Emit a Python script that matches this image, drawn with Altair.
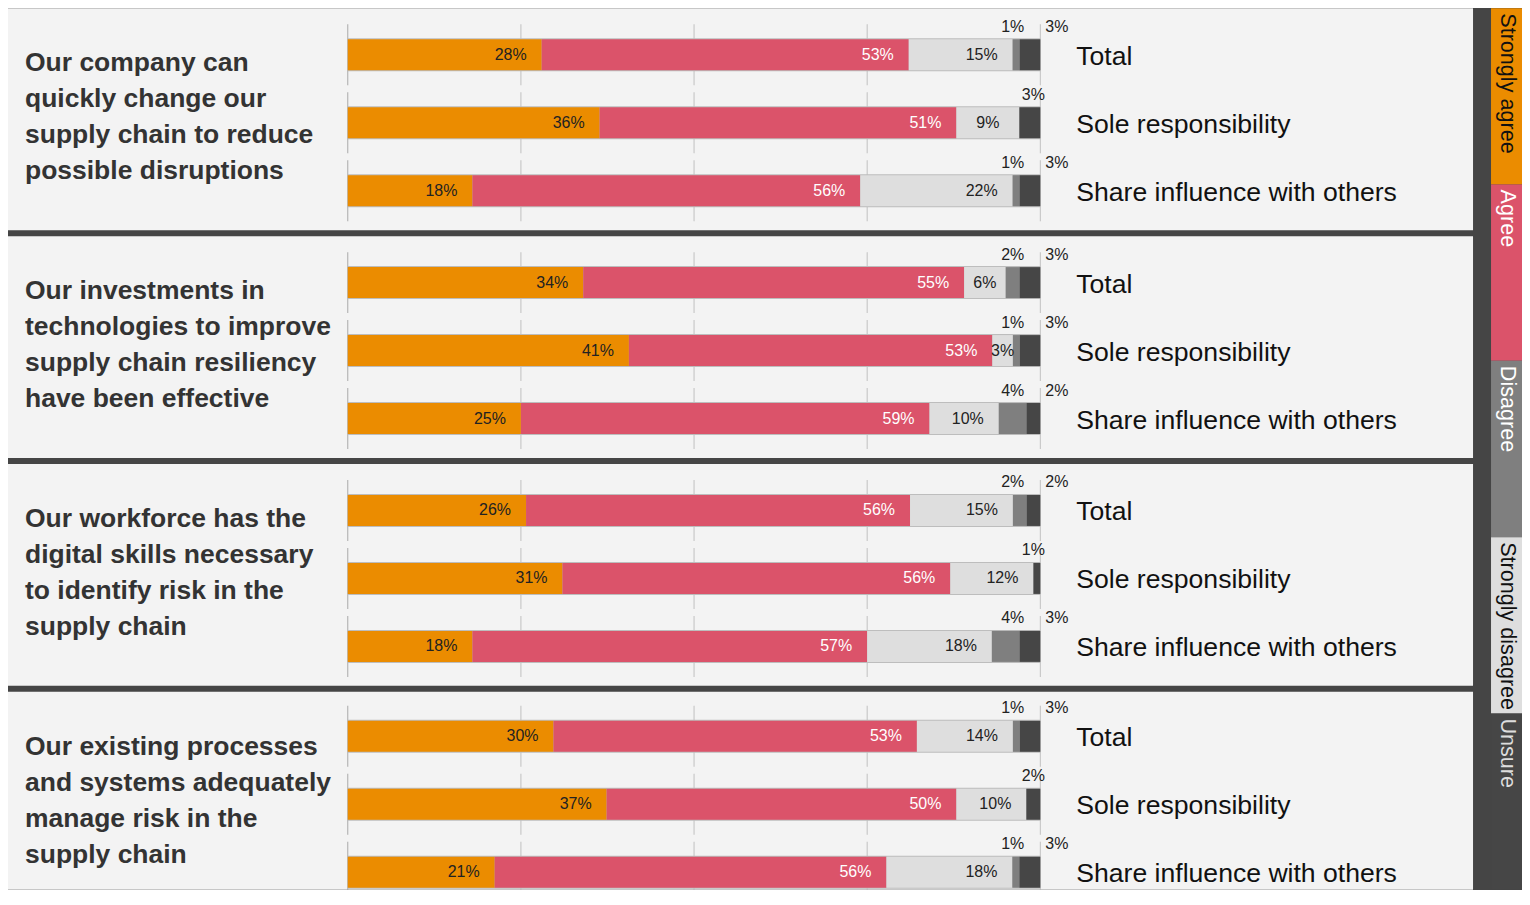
import altair as alt
import pandas as pd

# ---------------- data ----------------
questions = [
    "Our company can\nquickly change our\nsupply chain to reduce\npossible disruptions",
    "Our investments in\ntechnologies to improve\nsupply chain resiliency\nhave been effective",
    "Our workforce has the\ndigital skills necessary\nto identify risk in the\nsupply chain",
    "Our existing processes\nand systems adequately\nmanage risk in the\nsupply chain",
]
rows = ["Total", "Sole responsibility", "Share influence with others"]

seg_names = ["Strongly agree", "Agree", "Strongly disagree", "Disagree", "Unsure"]
seg_colors = ["#EB8C00", "#DB536A", "#DEDEDE", "#7F7F7F", "#464646"]

# 12 rows: 4 questions x (Total, Sole, Share)
strongly_agree = [28, 36, 18, 34, 41, 25, 26, 31, 18, 30, 37, 21]
agree = [53, 51, 56, 55, 53, 59, 56, 56, 57, 53, 50, 56]
strongly_disagree = [15, 9, 22, 6, 3, 10, 15, 12, 18, 14, 10, 18]
disagree = [1, 0, 1, 2, 1, 4, 2, 0, 4, 1, 0, 1]
unsure = [3, 3, 3, 3, 3, 2, 2, 1, 3, 3, 2, 3]

legend_order = ["Strongly agree", "Agree", "Disagree", "Strongly disagree", "Unsure"]
legend_colors = ["#EB8C00", "#DB536A", "#7F7F7F", "#DEDEDE", "#464646"]
legend_text_colors = ["#111111", "#FFFFFF", "#FFFFFF", "#111111", "#DDDDDD"]

grid_values = [0, 25, 50, 75, 100]

# ---------------- tables ----------------
series = [strongly_agree, agree, strongly_disagree, disagree, unsure]
recs = []
for p in range(4):
    for r, row in enumerate(rows):
        i = p * 3 + r
        for k, name in enumerate(seg_names):
            recs.append(dict(panel=p, row=row, seg=name, order=k,
                             value=series[k][i], dis=disagree[i]))
df = pd.DataFrame(recs)

grid_df = pd.DataFrame([dict(row=row, g=g, gc=("#8a8a8a" if g == 0 else "#ababab"))
                        for row in rows for g in grid_values])

X_MIN, X_MAX = -49.06, 162.48
PI = 0.544
FONT = "Liberation Sans"


def panel(p, height, po, align):
    d = df[df.panel == p]
    xs = alt.Scale(domain=[X_MIN, X_MAX], nice=False, zero=False)
    ys = alt.Scale(domain=rows, paddingInner=PI, paddingOuter=po, align=align)
    Y = alt.Y("row:N", scale=ys, axis=None, sort=rows)

    grid = alt.Chart(grid_df).mark_tick(size=61, thickness=1, clip=True).encode(
        x=alt.X("g:Q", scale=xs, axis=None), y=Y,
        color=alt.Color("gc:N", scale=None))

    border = alt.Chart(pd.DataFrame({"row": rows})).transform_calculate(
        zero="0", full="100").mark_bar(size=33, color="#bdbdbd").encode(
        x=alt.X("zero:Q", scale=xs, axis=None), x2="full:Q", y=Y)

    base = alt.Chart(d).transform_stack(
        stack="value", as_=["f0", "f1"], groupby=["row"], offset="normalize",
        sort=[alt.SortField("order", order="ascending")]
    ).transform_calculate(
        x0="datum.f0 * 100", x1="datum.f1 * 100",
        mid="(datum.f0 + datum.f1) * 50", label="datum.value + '%'", hundred="100")

    segs = base.mark_bar(size=31).encode(
        x=alt.X("x0:Q", scale=xs, axis=None), x2="x1:Q", y=Y,
        color=alt.Color("seg:N", scale=alt.Scale(domain=seg_names, range=seg_colors),
                        legend=None))

    tcolor = alt.condition("datum.order == 1", alt.value("#FFFFFF"), alt.value("#222222"))

    lab_big = base.transform_filter("datum.order <= 2 && datum.value >= 10").mark_text(
        align="right", baseline="middle", dx=-15, fontSize=16, font=FONT).encode(
        x=alt.X("x1:Q", scale=xs, axis=None), y=Y, text="label:N", color=tcolor)

    lab_small = base.transform_filter("datum.order == 2 && datum.value < 10").mark_text(
        align="center", baseline="middle", fontSize=16, font=FONT, color="#222222").encode(
        x=alt.X("mid:Q", scale=xs, axis=None), y=Y, text="label:N")

    lab_dis = base.transform_filter("datum.order == 3 && datum.value > 0").mark_text(
        align="right", baseline="alphabetic", dx=-16, dy=-23, fontSize=16, font=FONT,
        color="#222222").encode(
        x=alt.X("hundred:Q", scale=xs, axis=None), y=Y, text="label:N")

    lab_uns = base.transform_filter("datum.order == 4 && datum.value > 0 && datum.dis > 0").mark_text(
        align="left", baseline="alphabetic", dx=5, dy=-23, fontSize=16, font=FONT,
        color="#222222").encode(
        x=alt.X("hundred:Q", scale=xs, axis=None), y=Y, text="label:N")

    lab_uns2 = base.transform_filter("datum.order == 4 && datum.value > 0 && datum.dis == 0").mark_text(
        align="center", baseline="alphabetic", dx=-7, dy=-23, fontSize=16, font=FONT,
        color="#222222").encode(
        x=alt.X("hundred:Q", scale=xs, axis=None), y=Y, text="label:N")

    rowlab = alt.Chart(pd.DataFrame({"row": rows})).mark_text(
        align="left", baseline="middle", fontSize=26.6, font=FONT, color="#111111",
        dy=2).encode(x=alt.value(1069), y=Y, text="row:N")

    qtext = alt.Chart(pd.DataFrame({"q": [questions[p]]})).mark_text(
        align="left", baseline="middle", fontSize=26.5, fontWeight="bold", font=FONT,
        color="#333333", lineBreak="\n", lineHeight=36).encode(
        x=alt.value(17), y=alt.value(55), text="q:N")

    return alt.layer(grid, border, segs, lab_big, lab_small, lab_dis, lab_uns, lab_uns2,
                     rowlab, qtext).properties(
        width=1466, height=height,
        view=alt.ViewBackground(fill="#F3F3F3", strokeWidth=0))


panels = [
    panel(0, 222, 0.404, 0.564),
    panel(1, 222, 0.404, 0.564),
    panel(2, 222, 0.404, 0.564),
    panel(3, 198, 0.228, 0.935),
]
total_h = 222 * 3 + 198 + 6 * 3

ldf = pd.DataFrame({"cat": legend_order, "color": legend_colors, "tc": legend_text_colors})
lscale = alt.Scale(domain=legend_order, paddingInner=0, paddingOuter=0)
lrect = alt.Chart(ldf).mark_rect().encode(
    y=alt.Y("cat:N", scale=lscale, axis=None, sort=legend_order),
    x=alt.value(0), x2=alt.value(31),
    color=alt.Color("color:N", scale=None))
ltext = alt.Chart(ldf).mark_text(
    angle=90, align="left", baseline="middle", dx=5, fontSize=21.6, font=FONT).encode(
    y=alt.Y("cat:N", scale=lscale, axis=None, sort=legend_order, bandPosition=0),
    x=alt.value(15.5), text="cat:N",
    color=alt.Color("tc:N", scale=None))
legend = alt.layer(lrect, ltext).properties(
    width=31, height=total_h, view=alt.ViewBackground(strokeWidth=0))

chart = alt.hconcat(
    alt.vconcat(*panels, spacing=6), legend, spacing=18
).properties(padding=0, background="#454545").configure_view(strokeWidth=0).configure(font=FONT)

chart.save("out.html", embed_options={"renderer": "svg", "actions": False})
